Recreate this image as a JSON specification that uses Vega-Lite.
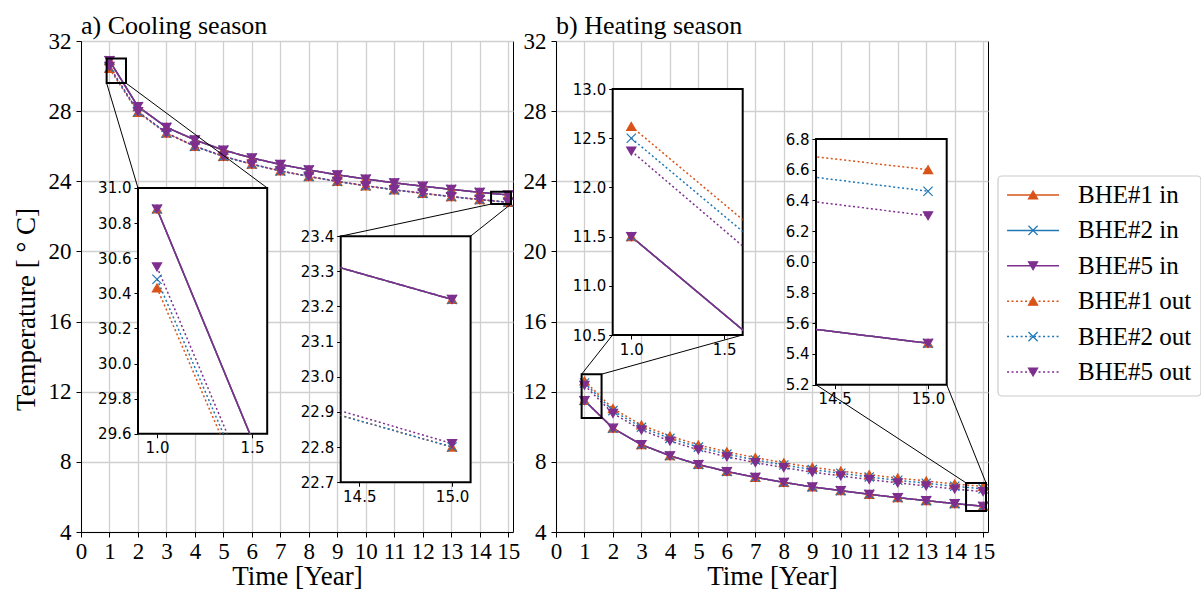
{
"$schema": "https://vega.github.io/schema/vega-lite/v6.json",
"background": "white",
"padding": {"left": 11, "top": 12, "right": 0, "bottom": 0},
"spacing": 43,
"bounds": "flush",
"config": {
  "view": {"stroke": "black", "strokeWidth": 1},
  "font": "Liberation Serif",
  "legend": {"disable": true},
  "axis": {"labelFont": "Liberation Serif", "titleFont": "Liberation Serif", "labelColor": "black", "titleColor": "black", "tickColor": "black", "domainColor": "black", "titleFontWeight": "normal", "gridColor": "#d0d0d0", "gridWidth": 1.3, "tickSize": 5, "labelPadding": 5, "labelFontSize": 23, "titleFontSize": 27, "labelFlush": false, "labelOverlap": false},
  "axisBottom": {"labelPadding": 3},
  "title": {"font": "Liberation Serif", "fontSize": 26, "fontWeight": "normal", "anchor": "start", "color": "black", "frame": "group", "offset": -9}
},
"datasets": {
  "regions": [
    {"p": "c", "i": 1, "x1": 0.9, "x2": 1.58, "y1": 29.6, "y2": 31.0},
    {"p": "c", "i": 2, "x1": 14.4, "x2": 15.1, "y1": 22.7, "y2": 23.4},
    {"p": "h", "i": 1, "x1": 0.9, "x2": 1.6, "y1": 10.5, "y2": 13.0},
    {"p": "h", "i": 2, "x1": 14.4, "x2": 15.1, "y1": 5.2, "y2": 6.8}
  ],
  "links": [
    {"p": "c", "xa": 0.9, "ya": 29.6, "xb": 2.0, "yb": 23.62},
    {"p": "c", "xa": 1.58, "ya": 29.6, "xb": 6.54, "yb": 23.62},
    {"p": "c", "xa": 14.4, "ya": 22.7, "xb": 9.12, "yb": 20.87},
    {"p": "c", "xa": 15.1, "ya": 22.7, "xb": 13.68, "yb": 20.87},
    {"p": "h", "xa": 0.9, "ya": 13.0, "xb": 1.99, "yb": 15.24},
    {"p": "h", "xa": 1.6, "ya": 13.0, "xb": 6.56, "yb": 15.24},
    {"p": "h", "xa": 14.4, "ya": 6.8, "xb": 9.13, "yb": 12.4},
    {"p": "h", "xa": 15.1, "ya": 6.8, "xb": 13.72, "yb": 12.4}
  ],
  "legend": [
    {"o": 0, "label": "BHE#1 in", "b": "BHE#1", "k": "in"},
    {"o": 1, "label": "BHE#2 in", "b": "BHE#2", "k": "in"},
    {"o": 2, "label": "BHE#5 in", "b": "BHE#5", "k": "in"},
    {"o": 3, "label": "BHE#1 out", "b": "BHE#1", "k": "out"},
    {"o": 4, "label": "BHE#2 out", "b": "BHE#2", "k": "out"},
    {"o": 5, "label": "BHE#5 out", "b": "BHE#5", "k": "out"}
  ],
  "legendbox": [{"x1": -0.193, "x2": 0.994, "y1": -0.536, "y2": 5.678}],
  "temps": [
    {"s":"c","b":"BHE#1","k":"in","t":1,"v":30.88},{"s":"c","b":"BHE#1","k":"in","t":2,"v":28.26},{"s":"c","b":"BHE#1","k":"in","t":3,"v":27.08},{"s":"c","b":"BHE#1","k":"in","t":4,"v":26.36},{"s":"c","b":"BHE#1","k":"in","t":5,"v":25.78},{"s":"c","b":"BHE#1","k":"in","t":6,"v":25.33},{"s":"c","b":"BHE#1","k":"in","t":7,"v":24.96},{"s":"c","b":"BHE#1","k":"in","t":8,"v":24.65},{"s":"c","b":"BHE#1","k":"in","t":9,"v":24.37},{"s":"c","b":"BHE#1","k":"in","t":10,"v":24.13},{"s":"c","b":"BHE#1","k":"in","t":11,"v":23.91},{"s":"c","b":"BHE#1","k":"in","t":12,"v":23.72},{"s":"c","b":"BHE#1","k":"in","t":13,"v":23.54},{"s":"c","b":"BHE#1","k":"in","t":14,"v":23.37},{"s":"c","b":"BHE#1","k":"in","t":15,"v":23.22},
    {"s":"c","b":"BHE#2","k":"in","t":1,"v":30.88},{"s":"c","b":"BHE#2","k":"in","t":2,"v":28.26},{"s":"c","b":"BHE#2","k":"in","t":3,"v":27.08},{"s":"c","b":"BHE#2","k":"in","t":4,"v":26.36},{"s":"c","b":"BHE#2","k":"in","t":5,"v":25.78},{"s":"c","b":"BHE#2","k":"in","t":6,"v":25.33},{"s":"c","b":"BHE#2","k":"in","t":7,"v":24.96},{"s":"c","b":"BHE#2","k":"in","t":8,"v":24.65},{"s":"c","b":"BHE#2","k":"in","t":9,"v":24.37},{"s":"c","b":"BHE#2","k":"in","t":10,"v":24.13},{"s":"c","b":"BHE#2","k":"in","t":11,"v":23.91},{"s":"c","b":"BHE#2","k":"in","t":12,"v":23.72},{"s":"c","b":"BHE#2","k":"in","t":13,"v":23.54},{"s":"c","b":"BHE#2","k":"in","t":14,"v":23.37},{"s":"c","b":"BHE#2","k":"in","t":15,"v":23.22},
    {"s":"c","b":"BHE#5","k":"in","t":1,"v":30.88},{"s":"c","b":"BHE#5","k":"in","t":2,"v":28.26},{"s":"c","b":"BHE#5","k":"in","t":3,"v":27.08},{"s":"c","b":"BHE#5","k":"in","t":4,"v":26.36},{"s":"c","b":"BHE#5","k":"in","t":5,"v":25.78},{"s":"c","b":"BHE#5","k":"in","t":6,"v":25.33},{"s":"c","b":"BHE#5","k":"in","t":7,"v":24.96},{"s":"c","b":"BHE#5","k":"in","t":8,"v":24.65},{"s":"c","b":"BHE#5","k":"in","t":9,"v":24.37},{"s":"c","b":"BHE#5","k":"in","t":10,"v":24.13},{"s":"c","b":"BHE#5","k":"in","t":11,"v":23.91},{"s":"c","b":"BHE#5","k":"in","t":12,"v":23.72},{"s":"c","b":"BHE#5","k":"in","t":13,"v":23.54},{"s":"c","b":"BHE#5","k":"in","t":14,"v":23.37},{"s":"c","b":"BHE#5","k":"in","t":15,"v":23.22},
    {"s":"c","b":"BHE#1","k":"out","t":1,"v":30.43},{"s":"c","b":"BHE#1","k":"out","t":2,"v":27.93},{"s":"c","b":"BHE#1","k":"out","t":3,"v":26.74},{"s":"c","b":"BHE#1","k":"out","t":4,"v":25.99},{"s":"c","b":"BHE#1","k":"out","t":5,"v":25.42},{"s":"c","b":"BHE#1","k":"out","t":6,"v":24.97},{"s":"c","b":"BHE#1","k":"out","t":7,"v":24.59},{"s":"c","b":"BHE#1","k":"out","t":8,"v":24.27},{"s":"c","b":"BHE#1","k":"out","t":9,"v":23.99},{"s":"c","b":"BHE#1","k":"out","t":10,"v":23.74},{"s":"c","b":"BHE#1","k":"out","t":11,"v":23.51},{"s":"c","b":"BHE#1","k":"out","t":12,"v":23.31},{"s":"c","b":"BHE#1","k":"out","t":13,"v":23.12},{"s":"c","b":"BHE#1","k":"out","t":14,"v":22.95},{"s":"c","b":"BHE#1","k":"out","t":15,"v":22.80},
    {"s":"c","b":"BHE#2","k":"out","t":1,"v":30.48},{"s":"c","b":"BHE#2","k":"out","t":2,"v":27.96},{"s":"c","b":"BHE#2","k":"out","t":3,"v":26.75},{"s":"c","b":"BHE#2","k":"out","t":4,"v":25.99},{"s":"c","b":"BHE#2","k":"out","t":5,"v":25.42},{"s":"c","b":"BHE#2","k":"out","t":6,"v":24.97},{"s":"c","b":"BHE#2","k":"out","t":7,"v":24.59},{"s":"c","b":"BHE#2","k":"out","t":8,"v":24.27},{"s":"c","b":"BHE#2","k":"out","t":9,"v":23.99},{"s":"c","b":"BHE#2","k":"out","t":10,"v":23.74},{"s":"c","b":"BHE#2","k":"out","t":11,"v":23.51},{"s":"c","b":"BHE#2","k":"out","t":12,"v":23.31},{"s":"c","b":"BHE#2","k":"out","t":13,"v":23.12},{"s":"c","b":"BHE#2","k":"out","t":14,"v":22.95},{"s":"c","b":"BHE#2","k":"out","t":15,"v":22.80},
    {"s":"c","b":"BHE#5","k":"out","t":1,"v":30.55},{"s":"c","b":"BHE#5","k":"out","t":2,"v":27.98},{"s":"c","b":"BHE#5","k":"out","t":3,"v":26.76},{"s":"c","b":"BHE#5","k":"out","t":4,"v":26.00},{"s":"c","b":"BHE#5","k":"out","t":5,"v":25.43},{"s":"c","b":"BHE#5","k":"out","t":6,"v":24.98},{"s":"c","b":"BHE#5","k":"out","t":7,"v":24.60},{"s":"c","b":"BHE#5","k":"out","t":8,"v":24.28},{"s":"c","b":"BHE#5","k":"out","t":9,"v":24.00},{"s":"c","b":"BHE#5","k":"out","t":10,"v":23.75},{"s":"c","b":"BHE#5","k":"out","t":11,"v":23.52},{"s":"c","b":"BHE#5","k":"out","t":12,"v":23.32},{"s":"c","b":"BHE#5","k":"out","t":13,"v":23.13},{"s":"c","b":"BHE#5","k":"out","t":14,"v":22.965},{"s":"c","b":"BHE#5","k":"out","t":15,"v":22.81},
    {"s":"h","b":"BHE#1","k":"in","t":1,"v":11.50},{"s":"h","b":"BHE#1","k":"in","t":2,"v":9.92},{"s":"h","b":"BHE#1","k":"in","t":3,"v":8.98},{"s":"h","b":"BHE#1","k":"in","t":4,"v":8.35},{"s":"h","b":"BHE#1","k":"in","t":5,"v":7.85},{"s":"h","b":"BHE#1","k":"in","t":6,"v":7.45},{"s":"h","b":"BHE#1","k":"in","t":7,"v":7.12},{"s":"h","b":"BHE#1","k":"in","t":8,"v":6.83},{"s":"h","b":"BHE#1","k":"in","t":9,"v":6.57},{"s":"h","b":"BHE#1","k":"in","t":10,"v":6.36},{"s":"h","b":"BHE#1","k":"in","t":11,"v":6.15},{"s":"h","b":"BHE#1","k":"in","t":12,"v":5.96},{"s":"h","b":"BHE#1","k":"in","t":13,"v":5.79},{"s":"h","b":"BHE#1","k":"in","t":14,"v":5.62},{"s":"h","b":"BHE#1","k":"in","t":15,"v":5.47},
    {"s":"h","b":"BHE#2","k":"in","t":1,"v":11.50},{"s":"h","b":"BHE#2","k":"in","t":2,"v":9.92},{"s":"h","b":"BHE#2","k":"in","t":3,"v":8.98},{"s":"h","b":"BHE#2","k":"in","t":4,"v":8.35},{"s":"h","b":"BHE#2","k":"in","t":5,"v":7.85},{"s":"h","b":"BHE#2","k":"in","t":6,"v":7.45},{"s":"h","b":"BHE#2","k":"in","t":7,"v":7.12},{"s":"h","b":"BHE#2","k":"in","t":8,"v":6.83},{"s":"h","b":"BHE#2","k":"in","t":9,"v":6.57},{"s":"h","b":"BHE#2","k":"in","t":10,"v":6.36},{"s":"h","b":"BHE#2","k":"in","t":11,"v":6.15},{"s":"h","b":"BHE#2","k":"in","t":12,"v":5.96},{"s":"h","b":"BHE#2","k":"in","t":13,"v":5.79},{"s":"h","b":"BHE#2","k":"in","t":14,"v":5.62},{"s":"h","b":"BHE#2","k":"in","t":15,"v":5.47},
    {"s":"h","b":"BHE#5","k":"in","t":1,"v":11.50},{"s":"h","b":"BHE#5","k":"in","t":2,"v":9.92},{"s":"h","b":"BHE#5","k":"in","t":3,"v":8.98},{"s":"h","b":"BHE#5","k":"in","t":4,"v":8.35},{"s":"h","b":"BHE#5","k":"in","t":5,"v":7.85},{"s":"h","b":"BHE#5","k":"in","t":6,"v":7.45},{"s":"h","b":"BHE#5","k":"in","t":7,"v":7.12},{"s":"h","b":"BHE#5","k":"in","t":8,"v":6.83},{"s":"h","b":"BHE#5","k":"in","t":9,"v":6.57},{"s":"h","b":"BHE#5","k":"in","t":10,"v":6.36},{"s":"h","b":"BHE#5","k":"in","t":11,"v":6.15},{"s":"h","b":"BHE#5","k":"in","t":12,"v":5.96},{"s":"h","b":"BHE#5","k":"in","t":13,"v":5.79},{"s":"h","b":"BHE#5","k":"in","t":14,"v":5.62},{"s":"h","b":"BHE#5","k":"in","t":15,"v":5.47},
    {"s":"h","b":"BHE#1","k":"out","t":1,"v":12.62},{"s":"h","b":"BHE#1","k":"out","t":2,"v":11.04},{"s":"h","b":"BHE#1","k":"out","t":3,"v":10.10},{"s":"h","b":"BHE#1","k":"out","t":4,"v":9.47},{"s":"h","b":"BHE#1","k":"out","t":5,"v":8.97},{"s":"h","b":"BHE#1","k":"out","t":6,"v":8.57},{"s":"h","b":"BHE#1","k":"out","t":7,"v":8.24},{"s":"h","b":"BHE#1","k":"out","t":8,"v":7.95},{"s":"h","b":"BHE#1","k":"out","t":9,"v":7.69},{"s":"h","b":"BHE#1","k":"out","t":10,"v":7.48},{"s":"h","b":"BHE#1","k":"out","t":11,"v":7.27},{"s":"h","b":"BHE#1","k":"out","t":12,"v":7.08},{"s":"h","b":"BHE#1","k":"out","t":13,"v":6.91},{"s":"h","b":"BHE#1","k":"out","t":14,"v":6.74},{"s":"h","b":"BHE#1","k":"out","t":15,"v":6.60},
    {"s":"h","b":"BHE#2","k":"out","t":1,"v":12.50},{"s":"h","b":"BHE#2","k":"out","t":2,"v":10.92},{"s":"h","b":"BHE#2","k":"out","t":3,"v":9.97},{"s":"h","b":"BHE#2","k":"out","t":4,"v":9.34},{"s":"h","b":"BHE#2","k":"out","t":5,"v":8.84},{"s":"h","b":"BHE#2","k":"out","t":6,"v":8.44},{"s":"h","b":"BHE#2","k":"out","t":7,"v":8.11},{"s":"h","b":"BHE#2","k":"out","t":8,"v":7.82},{"s":"h","b":"BHE#2","k":"out","t":9,"v":7.56},{"s":"h","b":"BHE#2","k":"out","t":10,"v":7.35},{"s":"h","b":"BHE#2","k":"out","t":11,"v":7.14},{"s":"h","b":"BHE#2","k":"out","t":12,"v":6.95},{"s":"h","b":"BHE#2","k":"out","t":13,"v":6.78},{"s":"h","b":"BHE#2","k":"out","t":14,"v":6.61},{"s":"h","b":"BHE#2","k":"out","t":15,"v":6.46},
    {"s":"h","b":"BHE#5","k":"out","t":1,"v":12.37},{"s":"h","b":"BHE#5","k":"out","t":2,"v":10.76},{"s":"h","b":"BHE#5","k":"out","t":3,"v":9.82},{"s":"h","b":"BHE#5","k":"out","t":4,"v":9.19},{"s":"h","b":"BHE#5","k":"out","t":5,"v":8.69},{"s":"h","b":"BHE#5","k":"out","t":6,"v":8.29},{"s":"h","b":"BHE#5","k":"out","t":7,"v":7.96},{"s":"h","b":"BHE#5","k":"out","t":8,"v":7.67},{"s":"h","b":"BHE#5","k":"out","t":9,"v":7.41},{"s":"h","b":"BHE#5","k":"out","t":10,"v":7.20},{"s":"h","b":"BHE#5","k":"out","t":11,"v":6.99},{"s":"h","b":"BHE#5","k":"out","t":12,"v":6.80},{"s":"h","b":"BHE#5","k":"out","t":13,"v":6.63},{"s":"h","b":"BHE#5","k":"out","t":14,"v":6.45},{"s":"h","b":"BHE#5","k":"out","t":15,"v":6.30}
  ]
},
"hconcat": [
{
  "title": {"text": "a) Cooling season"},
  "width": 432, "height": 491,
  "resolve": {"scale": {"x": "independent", "y": "independent"}},
  "layer": [
    {"layer": [
      {"data": {"name": "temps"}, "transform": [{"filter": "datum.s == 'c'"}],
       "mark": {"type": "line", "strokeWidth": 1.5},
       "encoding": {
         "x": {"field": "t", "type": "quantitative", "scale": {"domain": [0, 15.17], "nice": false, "zero": false}, "axis": {"orient": "bottom", "values": [0,1,2,3,4,5,6,7,8,9,10,11,12,13,14,15], "title": "Time [Year]", "grid": true, "titlePadding": 0}},
         "y": {"field": "v", "type": "quantitative", "scale": {"domain": [4, 32], "nice": false, "zero": false}, "axis": {"orient": "left", "values": [4,8,12,16,20,24,28,32], "title": "Temperature [ ° C]", "grid": true, "titlePadding": 8, "titleY": 268}},
         "stroke": {"field": "b", "type": "nominal", "scale": {"domain": ["BHE#1","BHE#2","BHE#5"], "range": ["#d95319","#1f77b4","#7e2f8e"]}, "legend": null},
         "strokeDash": {"field": "k", "type": "nominal", "scale": {"domain": ["in","out"], "range": [[1,0],[2,2.5]]}, "legend": null}
       }},
      {"data": {"name": "temps"}, "transform": [{"filter": "datum.s == 'c'"}],
       "mark": {"type": "point", "filled": true, "size": 85, "strokeWidth": 1.2, "opacity": 1},
       "encoding": {
         "x": {"field": "t", "type": "quantitative", "scale": {"domain": [0, 15.17], "nice": false, "zero": false}, "axis": {"orient": "bottom", "values": [0,1,2,3,4,5,6,7,8,9,10,11,12,13,14,15], "title": "Time [Year]", "grid": true, "titlePadding": 0}},
         "y": {"field": "v", "type": "quantitative", "scale": {"domain": [4, 32], "nice": false, "zero": false}, "axis": {"orient": "left", "values": [4,8,12,16,20,24,28,32], "title": "Temperature [ ° C]", "grid": true, "titlePadding": 8, "titleY": 268}},
         "fill": {"field": "b", "type": "nominal", "scale": {"domain": ["BHE#1","BHE#2","BHE#5"], "range": ["#d95319","#1f77b4","#7e2f8e"]}, "legend": null},
         "stroke": {"field": "b", "type": "nominal", "scale": {"domain": ["BHE#1","BHE#2","BHE#5"], "range": ["#d95319","#1f77b4","#7e2f8e"]}, "legend": null},
         "shape": {"field": "b", "type": "nominal", "scale": {"domain": ["BHE#1","BHE#2","BHE#5"], "range": ["triangle-up","M-1,-1L1,1M-1,1L1,-1","triangle-down"]}, "legend": null}
       }},
      {"data": {"name": "regions"}, "transform": [{"filter": "datum.p == 'c'"}],
       "mark": {"type": "rect", "filled": false, "color": "black", "strokeWidth": 2},
       "encoding": {
         "x": {"field": "x1", "type": "quantitative", "scale": {"domain": [0, 15.17], "nice": false, "zero": false}, "axis": {"orient": "bottom", "values": [0,1,2,3,4,5,6,7,8,9,10,11,12,13,14,15], "title": "Time [Year]", "grid": true, "titlePadding": 0}},
         "x2": {"field": "x2"},
         "y": {"field": "y1", "type": "quantitative", "scale": {"domain": [4, 32], "nice": false, "zero": false}, "axis": {"orient": "left", "values": [4,8,12,16,20,24,28,32], "title": "Temperature [ ° C]", "grid": true, "titlePadding": 8, "titleY": 268}},
         "y2": {"field": "y2"}
       }},
      {"data": {"name": "links"}, "transform": [{"filter": "datum.p == 'c'"}],
       "mark": {"type": "rule", "color": "black", "strokeWidth": 1},
       "encoding": {
         "x": {"field": "xa", "type": "quantitative", "scale": {"domain": [0, 15.17], "nice": false, "zero": false}, "axis": {"orient": "bottom", "values": [0,1,2,3,4,5,6,7,8,9,10,11,12,13,14,15], "title": "Time [Year]", "grid": true, "titlePadding": 0}},
         "x2": {"field": "xb"},
         "y": {"field": "ya", "type": "quantitative", "scale": {"domain": [4, 32], "nice": false, "zero": false}, "axis": {"orient": "left", "values": [4,8,12,16,20,24,28,32], "title": "Temperature [ ° C]", "grid": true, "titlePadding": 8, "titleY": 268}},
         "y2": {"field": "yb"}
       }}
    ]},
    {"layer": [
      {"data": {"name": "regions"}, "transform": [{"filter": "datum.p == 'c' && datum.i == 1"}],
       "mark": {"type": "rect", "fill": "white", "stroke": "black", "strokeWidth": 2},
       "encoding": {
         "x": {"field": "x1", "type": "quantitative", "scale": {"domain": [0.9, 1.58], "range": [57, 186.2], "nice": false, "zero": false}, "axis": {"orient": "bottom", "offset": -98.2, "values": [1.0, 1.5], "format": ".1f", "title": null, "grid": false, "domain": false, "labelFont": "DejaVu Sans", "labelFontSize": 15, "tickSize": 4, "labelPadding": 3, "zindex": 1}},
         "x2": {"field": "x2"},
         "y": {"field": "y1", "type": "quantitative", "scale": {"domain": [29.6, 31.0], "range": [392.8, 146.9], "nice": false, "zero": false}, "axis": {"orient": "left", "offset": -57, "values": [29.6, 29.8, 30.0, 30.2, 30.4, 30.6, 30.8, 31.0], "format": ".1f", "title": null, "grid": false, "domain": false, "labelFont": "DejaVu Sans", "labelFontSize": 15, "tickSize": 4, "labelPadding": 3, "zindex": 1}},
         "y2": {"field": "y2"}
       }},
      {"data": {"name": "temps"}, "transform": [{"filter": "datum.s == 'c' && datum.t <= 2"}],
       "mark": {"type": "line", "strokeWidth": 1.5, "clip": {"path": "M57,146.9H186.2V392.8H57Z"}},
       "encoding": {
         "x": {"field": "t", "type": "quantitative", "scale": {"domain": [0.9, 1.58], "range": [57, 186.2], "nice": false, "zero": false}, "axis": {"orient": "bottom", "offset": -98.2, "values": [1.0, 1.5], "format": ".1f", "title": null, "grid": false, "domain": false, "labelFont": "DejaVu Sans", "labelFontSize": 15, "tickSize": 4, "labelPadding": 3, "zindex": 1}},
         "y": {"field": "v", "type": "quantitative", "scale": {"domain": [29.6, 31.0], "range": [392.8, 146.9], "nice": false, "zero": false}, "axis": {"orient": "left", "offset": -57, "values": [29.6, 29.8, 30.0, 30.2, 30.4, 30.6, 30.8, 31.0], "format": ".1f", "title": null, "grid": false, "domain": false, "labelFont": "DejaVu Sans", "labelFontSize": 15, "tickSize": 4, "labelPadding": 3, "zindex": 1}},
         "stroke": {"field": "b", "type": "nominal", "scale": {"domain": ["BHE#1","BHE#2","BHE#5"], "range": ["#d95319","#1f77b4","#7e2f8e"]}, "legend": null},
         "strokeDash": {"field": "k", "type": "nominal", "scale": {"domain": ["in","out"], "range": [[1,0],[2,2.5]]}, "legend": null}
       }},
      {"data": {"name": "temps"}, "transform": [{"filter": "datum.s == 'c' && datum.t == 1"}],
       "mark": {"type": "point", "filled": true, "size": 85, "strokeWidth": 1.2, "opacity": 1},
       "encoding": {
         "x": {"field": "t", "type": "quantitative", "scale": {"domain": [0.9, 1.58], "range": [57, 186.2], "nice": false, "zero": false}, "axis": {"orient": "bottom", "offset": -98.2, "values": [1.0, 1.5], "format": ".1f", "title": null, "grid": false, "domain": false, "labelFont": "DejaVu Sans", "labelFontSize": 15, "tickSize": 4, "labelPadding": 3, "zindex": 1}},
         "y": {"field": "v", "type": "quantitative", "scale": {"domain": [29.6, 31.0], "range": [392.8, 146.9], "nice": false, "zero": false}, "axis": {"orient": "left", "offset": -57, "values": [29.6, 29.8, 30.0, 30.2, 30.4, 30.6, 30.8, 31.0], "format": ".1f", "title": null, "grid": false, "domain": false, "labelFont": "DejaVu Sans", "labelFontSize": 15, "tickSize": 4, "labelPadding": 3, "zindex": 1}},
         "fill": {"field": "b", "type": "nominal", "scale": {"domain": ["BHE#1","BHE#2","BHE#5"], "range": ["#d95319","#1f77b4","#7e2f8e"]}, "legend": null},
         "stroke": {"field": "b", "type": "nominal", "scale": {"domain": ["BHE#1","BHE#2","BHE#5"], "range": ["#d95319","#1f77b4","#7e2f8e"]}, "legend": null},
         "shape": {"field": "b", "type": "nominal", "scale": {"domain": ["BHE#1","BHE#2","BHE#5"], "range": ["triangle-up","M-1,-1L1,1M-1,1L1,-1","triangle-down"]}, "legend": null}
       }}
    ]},
    {"layer": [
      {"data": {"name": "regions"}, "transform": [{"filter": "datum.p == 'c' && datum.i == 2"}],
       "mark": {"type": "rect", "fill": "white", "stroke": "black", "strokeWidth": 2},
       "encoding": {
         "x": {"field": "x1", "type": "quantitative", "scale": {"domain": [14.4, 15.1], "range": [259.7, 389.6], "nice": false, "zero": false}, "axis": {"orient": "bottom", "offset": -49.8, "values": [14.5, 15.0], "format": ".1f", "title": null, "grid": false, "domain": false, "labelFont": "DejaVu Sans", "labelFontSize": 15, "tickSize": 4, "labelPadding": 3, "zindex": 1}},
         "x2": {"field": "x2"},
         "y": {"field": "y1", "type": "quantitative", "scale": {"domain": [22.7, 23.4], "range": [441.2, 195.2], "nice": false, "zero": false}, "axis": {"orient": "left", "offset": -259.7, "values": [22.7, 22.8, 22.9, 23.0, 23.1, 23.2, 23.3, 23.4], "format": ".1f", "title": null, "grid": false, "domain": false, "labelFont": "DejaVu Sans", "labelFontSize": 15, "tickSize": 4, "labelPadding": 3, "zindex": 1}},
         "y2": {"field": "y2"}
       }},
      {"data": {"name": "temps"}, "transform": [{"filter": "datum.s == 'c' && datum.t >= 14"}],
       "mark": {"type": "line", "strokeWidth": 1.5, "clip": {"path": "M259.7,195.2H389.6V441.2H259.7Z"}},
       "encoding": {
         "x": {"field": "t", "type": "quantitative", "scale": {"domain": [14.4, 15.1], "range": [259.7, 389.6], "nice": false, "zero": false}, "axis": {"orient": "bottom", "offset": -49.8, "values": [14.5, 15.0], "format": ".1f", "title": null, "grid": false, "domain": false, "labelFont": "DejaVu Sans", "labelFontSize": 15, "tickSize": 4, "labelPadding": 3, "zindex": 1}},
         "y": {"field": "v", "type": "quantitative", "scale": {"domain": [22.7, 23.4], "range": [441.2, 195.2], "nice": false, "zero": false}, "axis": {"orient": "left", "offset": -259.7, "values": [22.7, 22.8, 22.9, 23.0, 23.1, 23.2, 23.3, 23.4], "format": ".1f", "title": null, "grid": false, "domain": false, "labelFont": "DejaVu Sans", "labelFontSize": 15, "tickSize": 4, "labelPadding": 3, "zindex": 1}},
         "stroke": {"field": "b", "type": "nominal", "scale": {"domain": ["BHE#1","BHE#2","BHE#5"], "range": ["#d95319","#1f77b4","#7e2f8e"]}, "legend": null},
         "strokeDash": {"field": "k", "type": "nominal", "scale": {"domain": ["in","out"], "range": [[1,0],[2,2.5]]}, "legend": null}
       }},
      {"data": {"name": "temps"}, "transform": [{"filter": "datum.s == 'c' && datum.t == 15"}],
       "mark": {"type": "point", "filled": true, "size": 85, "strokeWidth": 1.2, "opacity": 1},
       "encoding": {
         "x": {"field": "t", "type": "quantitative", "scale": {"domain": [14.4, 15.1], "range": [259.7, 389.6], "nice": false, "zero": false}, "axis": {"orient": "bottom", "offset": -49.8, "values": [14.5, 15.0], "format": ".1f", "title": null, "grid": false, "domain": false, "labelFont": "DejaVu Sans", "labelFontSize": 15, "tickSize": 4, "labelPadding": 3, "zindex": 1}},
         "y": {"field": "v", "type": "quantitative", "scale": {"domain": [22.7, 23.4], "range": [441.2, 195.2], "nice": false, "zero": false}, "axis": {"orient": "left", "offset": -259.7, "values": [22.7, 22.8, 22.9, 23.0, 23.1, 23.2, 23.3, 23.4], "format": ".1f", "title": null, "grid": false, "domain": false, "labelFont": "DejaVu Sans", "labelFontSize": 15, "tickSize": 4, "labelPadding": 3, "zindex": 1}},
         "fill": {"field": "b", "type": "nominal", "scale": {"domain": ["BHE#1","BHE#2","BHE#5"], "range": ["#d95319","#1f77b4","#7e2f8e"]}, "legend": null},
         "stroke": {"field": "b", "type": "nominal", "scale": {"domain": ["BHE#1","BHE#2","BHE#5"], "range": ["#d95319","#1f77b4","#7e2f8e"]}, "legend": null},
         "shape": {"field": "b", "type": "nominal", "scale": {"domain": ["BHE#1","BHE#2","BHE#5"], "range": ["triangle-up","M-1,-1L1,1M-1,1L1,-1","triangle-down"]}, "legend": null}
       }}
    ]}
  ]
},
{
  "title": {"text": "b) Heating season"},
  "width": 432, "height": 491,
  "resolve": {"scale": {"x": "independent", "y": "independent"}},
  "layer": [
    {"layer": [
      {"data": {"name": "temps"}, "transform": [{"filter": "datum.s == 'h'"}],
       "mark": {"type": "line", "strokeWidth": 1.5},
       "encoding": {
         "x": {"field": "t", "type": "quantitative", "scale": {"domain": [0, 15.17], "nice": false, "zero": false}, "axis": {"orient": "bottom", "values": [0,1,2,3,4,5,6,7,8,9,10,11,12,13,14,15], "title": "Time [Year]", "grid": true, "titlePadding": 0}},
         "y": {"field": "v", "type": "quantitative", "scale": {"domain": [4, 32], "nice": false, "zero": false}, "axis": {"orient": "left", "values": [4,8,12,16,20,24,28,32], "title": null, "grid": true}},
         "stroke": {"field": "b", "type": "nominal", "scale": {"domain": ["BHE#1","BHE#2","BHE#5"], "range": ["#d95319","#1f77b4","#7e2f8e"]}, "legend": null},
         "strokeDash": {"field": "k", "type": "nominal", "scale": {"domain": ["in","out"], "range": [[1,0],[2,2.5]]}, "legend": null}
       }},
      {"data": {"name": "temps"}, "transform": [{"filter": "datum.s == 'h'"}],
       "mark": {"type": "point", "filled": true, "size": 85, "strokeWidth": 1.2, "opacity": 1},
       "encoding": {
         "x": {"field": "t", "type": "quantitative", "scale": {"domain": [0, 15.17], "nice": false, "zero": false}, "axis": {"orient": "bottom", "values": [0,1,2,3,4,5,6,7,8,9,10,11,12,13,14,15], "title": "Time [Year]", "grid": true, "titlePadding": 0}},
         "y": {"field": "v", "type": "quantitative", "scale": {"domain": [4, 32], "nice": false, "zero": false}, "axis": {"orient": "left", "values": [4,8,12,16,20,24,28,32], "title": null, "grid": true}},
         "fill": {"field": "b", "type": "nominal", "scale": {"domain": ["BHE#1","BHE#2","BHE#5"], "range": ["#d95319","#1f77b4","#7e2f8e"]}, "legend": null},
         "stroke": {"field": "b", "type": "nominal", "scale": {"domain": ["BHE#1","BHE#2","BHE#5"], "range": ["#d95319","#1f77b4","#7e2f8e"]}, "legend": null},
         "shape": {"field": "b", "type": "nominal", "scale": {"domain": ["BHE#1","BHE#2","BHE#5"], "range": ["triangle-up","M-1,-1L1,1M-1,1L1,-1","triangle-down"]}, "legend": null}
       }},
      {"data": {"name": "regions"}, "transform": [{"filter": "datum.p == 'h'"}],
       "mark": {"type": "rect", "filled": false, "color": "black", "strokeWidth": 2},
       "encoding": {
         "x": {"field": "x1", "type": "quantitative", "scale": {"domain": [0, 15.17], "nice": false, "zero": false}, "axis": {"orient": "bottom", "values": [0,1,2,3,4,5,6,7,8,9,10,11,12,13,14,15], "title": "Time [Year]", "grid": true, "titlePadding": 0}},
         "x2": {"field": "x2"},
         "y": {"field": "y1", "type": "quantitative", "scale": {"domain": [4, 32], "nice": false, "zero": false}, "axis": {"orient": "left", "values": [4,8,12,16,20,24,28,32], "title": null, "grid": true}},
         "y2": {"field": "y2"}
       }},
      {"data": {"name": "links"}, "transform": [{"filter": "datum.p == 'h'"}],
       "mark": {"type": "rule", "color": "black", "strokeWidth": 1},
       "encoding": {
         "x": {"field": "xa", "type": "quantitative", "scale": {"domain": [0, 15.17], "nice": false, "zero": false}, "axis": {"orient": "bottom", "values": [0,1,2,3,4,5,6,7,8,9,10,11,12,13,14,15], "title": "Time [Year]", "grid": true, "titlePadding": 0}},
         "x2": {"field": "xb"},
         "y": {"field": "ya", "type": "quantitative", "scale": {"domain": [4, 32], "nice": false, "zero": false}, "axis": {"orient": "left", "values": [4,8,12,16,20,24,28,32], "title": null, "grid": true}},
         "y2": {"field": "yb"}
       }}
    ]},
    {"layer": [
      {"data": {"name": "regions"}, "transform": [{"filter": "datum.p == 'h' && datum.i == 1"}],
       "mark": {"type": "rect", "fill": "white", "stroke": "black", "strokeWidth": 2},
       "encoding": {
         "x": {"field": "x1", "type": "quantitative", "scale": {"domain": [0.9, 1.6], "range": [56.7, 186.7], "nice": false, "zero": false}, "axis": {"orient": "bottom", "offset": -197, "values": [1.0, 1.5], "format": ".1f", "title": null, "grid": false, "domain": false, "labelFont": "DejaVu Sans", "labelFontSize": 15, "tickSize": 4, "labelPadding": 3, "zindex": 1}},
         "x2": {"field": "x2"},
         "y": {"field": "y1", "type": "quantitative", "scale": {"domain": [10.5, 13.0], "range": [294, 48], "nice": false, "zero": false}, "axis": {"orient": "left", "offset": -56.7, "values": [10.5, 11.0, 11.5, 12.0, 12.5, 13.0], "format": ".1f", "title": null, "grid": false, "domain": false, "labelFont": "DejaVu Sans", "labelFontSize": 15, "tickSize": 4, "labelPadding": 3, "zindex": 1}},
         "y2": {"field": "y2"}
       }},
      {"data": {"name": "temps"}, "transform": [{"filter": "datum.s == 'h' && datum.t <= 2"}],
       "mark": {"type": "line", "strokeWidth": 1.5, "clip": {"path": "M56.7,48H186.7V294H56.7Z"}},
       "encoding": {
         "x": {"field": "t", "type": "quantitative", "scale": {"domain": [0.9, 1.6], "range": [56.7, 186.7], "nice": false, "zero": false}, "axis": {"orient": "bottom", "offset": -197, "values": [1.0, 1.5], "format": ".1f", "title": null, "grid": false, "domain": false, "labelFont": "DejaVu Sans", "labelFontSize": 15, "tickSize": 4, "labelPadding": 3, "zindex": 1}},
         "y": {"field": "v", "type": "quantitative", "scale": {"domain": [10.5, 13.0], "range": [294, 48], "nice": false, "zero": false}, "axis": {"orient": "left", "offset": -56.7, "values": [10.5, 11.0, 11.5, 12.0, 12.5, 13.0], "format": ".1f", "title": null, "grid": false, "domain": false, "labelFont": "DejaVu Sans", "labelFontSize": 15, "tickSize": 4, "labelPadding": 3, "zindex": 1}},
         "stroke": {"field": "b", "type": "nominal", "scale": {"domain": ["BHE#1","BHE#2","BHE#5"], "range": ["#d95319","#1f77b4","#7e2f8e"]}, "legend": null},
         "strokeDash": {"field": "k", "type": "nominal", "scale": {"domain": ["in","out"], "range": [[1,0],[2,2.5]]}, "legend": null}
       }},
      {"data": {"name": "temps"}, "transform": [{"filter": "datum.s == 'h' && datum.t == 1"}],
       "mark": {"type": "point", "filled": true, "size": 85, "strokeWidth": 1.2, "opacity": 1},
       "encoding": {
         "x": {"field": "t", "type": "quantitative", "scale": {"domain": [0.9, 1.6], "range": [56.7, 186.7], "nice": false, "zero": false}, "axis": {"orient": "bottom", "offset": -197, "values": [1.0, 1.5], "format": ".1f", "title": null, "grid": false, "domain": false, "labelFont": "DejaVu Sans", "labelFontSize": 15, "tickSize": 4, "labelPadding": 3, "zindex": 1}},
         "y": {"field": "v", "type": "quantitative", "scale": {"domain": [10.5, 13.0], "range": [294, 48], "nice": false, "zero": false}, "axis": {"orient": "left", "offset": -56.7, "values": [10.5, 11.0, 11.5, 12.0, 12.5, 13.0], "format": ".1f", "title": null, "grid": false, "domain": false, "labelFont": "DejaVu Sans", "labelFontSize": 15, "tickSize": 4, "labelPadding": 3, "zindex": 1}},
         "fill": {"field": "b", "type": "nominal", "scale": {"domain": ["BHE#1","BHE#2","BHE#5"], "range": ["#d95319","#1f77b4","#7e2f8e"]}, "legend": null},
         "stroke": {"field": "b", "type": "nominal", "scale": {"domain": ["BHE#1","BHE#2","BHE#5"], "range": ["#d95319","#1f77b4","#7e2f8e"]}, "legend": null},
         "shape": {"field": "b", "type": "nominal", "scale": {"domain": ["BHE#1","BHE#2","BHE#5"], "range": ["triangle-up","M-1,-1L1,1M-1,1L1,-1","triangle-down"]}, "legend": null}
       }}
    ]},
    {"layer": [
      {"data": {"name": "regions"}, "transform": [{"filter": "datum.p == 'h' && datum.i == 2"}],
       "mark": {"type": "rect", "fill": "white", "stroke": "black", "strokeWidth": 2},
       "encoding": {
         "x": {"field": "x1", "type": "quantitative", "scale": {"domain": [14.4, 15.1], "range": [260, 390.7], "nice": false, "zero": false}, "axis": {"orient": "bottom", "offset": -147.3, "values": [14.5, 15.0], "format": ".1f", "title": null, "grid": false, "domain": false, "labelFont": "DejaVu Sans", "labelFontSize": 15, "tickSize": 4, "labelPadding": 3, "zindex": 1}},
         "x2": {"field": "x2"},
         "y": {"field": "y1", "type": "quantitative", "scale": {"domain": [5.2, 6.8], "range": [343.7, 98], "nice": false, "zero": false}, "axis": {"orient": "left", "offset": -260, "values": [5.2, 5.4, 5.6, 5.8, 6.0, 6.2, 6.4, 6.6, 6.8], "format": ".1f", "title": null, "grid": false, "domain": false, "labelFont": "DejaVu Sans", "labelFontSize": 15, "tickSize": 4, "labelPadding": 3, "zindex": 1}},
         "y2": {"field": "y2"}
       }},
      {"data": {"name": "temps"}, "transform": [{"filter": "datum.s == 'h' && datum.t >= 14"}],
       "mark": {"type": "line", "strokeWidth": 1.5, "clip": {"path": "M260,98H390.7V343.7H260Z"}},
       "encoding": {
         "x": {"field": "t", "type": "quantitative", "scale": {"domain": [14.4, 15.1], "range": [260, 390.7], "nice": false, "zero": false}, "axis": {"orient": "bottom", "offset": -147.3, "values": [14.5, 15.0], "format": ".1f", "title": null, "grid": false, "domain": false, "labelFont": "DejaVu Sans", "labelFontSize": 15, "tickSize": 4, "labelPadding": 3, "zindex": 1}},
         "y": {"field": "v", "type": "quantitative", "scale": {"domain": [5.2, 6.8], "range": [343.7, 98], "nice": false, "zero": false}, "axis": {"orient": "left", "offset": -260, "values": [5.2, 5.4, 5.6, 5.8, 6.0, 6.2, 6.4, 6.6, 6.8], "format": ".1f", "title": null, "grid": false, "domain": false, "labelFont": "DejaVu Sans", "labelFontSize": 15, "tickSize": 4, "labelPadding": 3, "zindex": 1}},
         "stroke": {"field": "b", "type": "nominal", "scale": {"domain": ["BHE#1","BHE#2","BHE#5"], "range": ["#d95319","#1f77b4","#7e2f8e"]}, "legend": null},
         "strokeDash": {"field": "k", "type": "nominal", "scale": {"domain": ["in","out"], "range": [[1,0],[2,2.5]]}, "legend": null}
       }},
      {"data": {"name": "temps"}, "transform": [{"filter": "datum.s == 'h' && datum.t == 15"}],
       "mark": {"type": "point", "filled": true, "size": 85, "strokeWidth": 1.2, "opacity": 1},
       "encoding": {
         "x": {"field": "t", "type": "quantitative", "scale": {"domain": [14.4, 15.1], "range": [260, 390.7], "nice": false, "zero": false}, "axis": {"orient": "bottom", "offset": -147.3, "values": [14.5, 15.0], "format": ".1f", "title": null, "grid": false, "domain": false, "labelFont": "DejaVu Sans", "labelFontSize": 15, "tickSize": 4, "labelPadding": 3, "zindex": 1}},
         "y": {"field": "v", "type": "quantitative", "scale": {"domain": [5.2, 6.8], "range": [343.7, 98], "nice": false, "zero": false}, "axis": {"orient": "left", "offset": -260, "values": [5.2, 5.4, 5.6, 5.8, 6.0, 6.2, 6.4, 6.6, 6.8], "format": ".1f", "title": null, "grid": false, "domain": false, "labelFont": "DejaVu Sans", "labelFontSize": 15, "tickSize": 4, "labelPadding": 3, "zindex": 1}},
         "fill": {"field": "b", "type": "nominal", "scale": {"domain": ["BHE#1","BHE#2","BHE#5"], "range": ["#d95319","#1f77b4","#7e2f8e"]}, "legend": null},
         "stroke": {"field": "b", "type": "nominal", "scale": {"domain": ["BHE#1","BHE#2","BHE#5"], "range": ["#d95319","#1f77b4","#7e2f8e"]}, "legend": null},
         "shape": {"field": "b", "type": "nominal", "scale": {"domain": ["BHE#1","BHE#2","BHE#5"], "range": ["triangle-up","M-1,-1L1,1M-1,1L1,-1","triangle-down"]}, "legend": null}
       }}
    ]}
  ]
},
{
  "width": 171, "height": 491,
  "view": {"stroke": null},
  "layer": [
    {"data": {"name": "legendbox"},
     "mark": {"type": "rect", "fill": "white", "stroke": "#cccccc", "strokeWidth": 1.2, "cornerRadius": 4},
     "encoding": {
       "x": {"field": "x1", "type": "quantitative", "scale": {"domain": [0, 1], "nice": false, "zero": false}, "axis": null},
       "x2": {"field": "x2"},
       "y": {"field": "y1", "type": "quantitative", "scale": {"domain": [-4.35, 9.52], "reverse": true, "nice": false, "zero": false}, "axis": null},
       "y2": {"field": "y2"}
     }},
    {"data": {"name": "legend"},
     "mark": {"type": "rule", "strokeWidth": 1.5},
     "encoding": {
       "x": {"datum": -0.14, "type": "quantitative", "scale": {"domain": [0, 1], "nice": false, "zero": false}, "axis": null},
       "x2": {"datum": 0.164},
       "y": {"field": "o", "type": "quantitative", "scale": {"domain": [-4.35, 9.52], "reverse": true, "nice": false, "zero": false}, "axis": null},
       "stroke": {"field": "b", "type": "nominal", "scale": {"domain": ["BHE#1","BHE#2","BHE#5"], "range": ["#d95319","#1f77b4","#7e2f8e"]}, "legend": null},
       "strokeDash": {"field": "k", "type": "nominal", "scale": {"domain": ["in","out"], "range": [[1,0],[2,2.5]]}, "legend": null}
     }},
    {"data": {"name": "legend"},
     "mark": {"type": "point", "filled": true, "size": 85, "strokeWidth": 1.2, "opacity": 1},
     "encoding": {
       "x": {"datum": 0.012, "type": "quantitative", "scale": {"domain": [0, 1], "nice": false, "zero": false}, "axis": null},
       "y": {"field": "o", "type": "quantitative", "scale": {"domain": [-4.35, 9.52], "reverse": true, "nice": false, "zero": false}, "axis": null},
       "fill": {"field": "b", "type": "nominal", "scale": {"domain": ["BHE#1","BHE#2","BHE#5"], "range": ["#d95319","#1f77b4","#7e2f8e"]}, "legend": null},
       "stroke": {"field": "b", "type": "nominal", "scale": {"domain": ["BHE#1","BHE#2","BHE#5"], "range": ["#d95319","#1f77b4","#7e2f8e"]}, "legend": null},
       "shape": {"field": "b", "type": "nominal", "scale": {"domain": ["BHE#1","BHE#2","BHE#5"], "range": ["triangle-up","M-1,-1L1,1M-1,1L1,-1","triangle-down"]}, "legend": null}
     }},
    {"data": {"name": "legend"},
     "mark": {"type": "text", "align": "left", "baseline": "middle", "font": "Liberation Serif", "fontSize": 25, "color": "black"},
     "encoding": {
       "x": {"datum": 0.275, "type": "quantitative", "scale": {"domain": [0, 1], "nice": false, "zero": false}, "axis": null},
       "y": {"field": "o", "type": "quantitative", "scale": {"domain": [-4.35, 9.52], "reverse": true, "nice": false, "zero": false}, "axis": null},
       "text": {"field": "label"}
     }}
  ]
}
]
}
